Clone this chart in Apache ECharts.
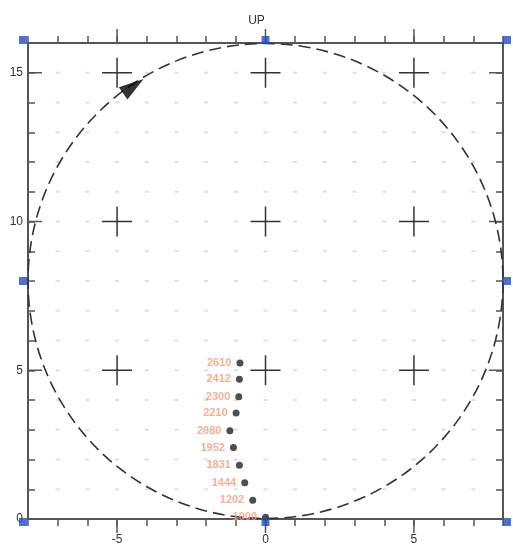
<!DOCTYPE html>
<html><head><meta charset="utf-8">
<script src="https://cdn.jsdelivr.net/npm/echarts@6/dist/echarts.min.js"></script>
<style>html,body{margin:0;padding:0;background:#fff}#c{width:513px;height:550px}</style>
</head><body><div id="c"></div>
<script>
// axis ranges and tick labels
const xMin = -8, xMax = 8, yMin = 0, yMax = 16;
const majorX = [-5, 0, 5];
const majorY = [5, 10, 15];
// background grid dots (integer positions)
const gridX = [-7,-6,-5,-4,-3,-2,-1,0,1,2,3,4,5,6,7];
const gridY = [1,2,3,4,5,6,7,8,9,10,11,12,13,14,15];
// circle: center x, center y, radius
const circle = [[0, 8, 8]];
// direction arrow on circle
const arrowPt = [[-4.45, 14.55]];
// anchor squares
const anchorPts = [[-8,0],[0,0],[8,0],[-8,8],[8,8],[-8,16],[0,16],[8,16]];
// trajectory points
const trackX = [-0.86, -0.88, -0.90, -0.99, -1.20, -1.08, -0.88, -0.70, -0.43, 0.0];
const trackY = [5.24, 4.70, 4.11, 3.56, 2.97, 2.40, 1.81, 1.22, 0.63, 0.06];
const trackLabels = ['2610','2412','2300','2210','2080','1952','1831','1444','1202','1000'];

const chart = echarts.init(document.getElementById('c'));
const axisColor = '#555';
const dots = [];
gridX.forEach(x => gridY.forEach(y => dots.push([x, y])));
const plus = [];
majorX.forEach(x => majorY.forEach(y => plus.push([x, y])));

function xAxisCfg(pos, showLabel) {
  return {
    type: 'value', position: pos, min: xMin, max: xMax, interval: 1,
    axisLine: { show: true, onZero: false, lineStyle: { color: axisColor, width: 2 } },
    axisTick: { show: true, inside: false, length: 7, lineStyle: { color: axisColor, width: 1.5 } },
    splitLine: { show: false },
    axisLabel: { show: showLabel, margin: 15, color: '#333', fontSize: 12, fontFamily: 'Liberation Sans, Arial',
      formatter: v => (v % 5 === 0 && v > xMin && v < xMax) ? String(v) : '' }
  };
}
function yAxisCfg(pos, showLabel) {
  return {
    type: 'value', position: pos, min: yMin, max: yMax, interval: 1,
    axisLine: { show: true, onZero: false, lineStyle: { color: axisColor, width: 2 } },
    axisTick: { show: true, inside: true, length: 7, lineStyle: { color: axisColor, width: 1.5 } },
    splitLine: { show: false },
    axisLabel: { show: showLabel, margin: 5, color: '#333', fontSize: 12, fontFamily: 'Liberation Sans, Arial',
      formatter: v => (v % 5 === 0 && v < yMax) ? String(v) : '' }
  };
}

chart.setOption({
  animation: false,
  backgroundColor: '#fff',
  title: { text: 'UP', left: 'center', top: 10, textStyle: { fontSize: 12, fontWeight: 'normal', color: '#333', fontFamily: 'Liberation Sans, Arial' } },
  grid: { left: 28, right: 10, top: 43, bottom: 31 },
  xAxis: [xAxisCfg('bottom', true), xAxisCfg('top', false)],
  yAxis: [yAxisCfg('left', true), yAxisCfg('right', false)],
  series: [
    { type: 'scatter', data: dots, symbol: 'rect', symbolSize: [4, 2], silent: true,
      itemStyle: { color: '#cdd9e5' }, z: 1 },
    { type: 'custom', data: plus, silent: true, z: 2,
      renderItem: (params, api) => {
        const p = api.coord([api.value(0), api.value(1)]);
        const h = 15;
        const st = { stroke: '#333', lineWidth: 1.5 };
        return { type: 'group', children: [
          { type: 'line', shape: { x1: p[0]-h, y1: p[1], x2: p[0]+h, y2: p[1] }, style: st },
          { type: 'line', shape: { x1: p[0], y1: p[1]-h, x2: p[0], y2: p[1]+h }, style: st }
        ]};
      } },
    { type: 'custom', data: majorX.map(v => [v, 0]), silent: true, clip: false, z: 3,
      renderItem: (params, api) => {
        const v = api.value(0);
        const b = api.coord([v, yMin]), t = api.coord([v, yMax]);
        const st = { stroke: axisColor, lineWidth: 1.5 };
        return { type: 'group', children: [
          { type: 'line', shape: { x1: b[0], y1: b[1], x2: b[0], y2: b[1]+14 }, style: st },
          { type: 'line', shape: { x1: t[0], y1: t[1], x2: t[0], y2: t[1]-14 }, style: st }
        ]};
      } },
    { type: 'custom', data: majorY.map(v => [0, v]), silent: true, clip: false, z: 3,
      renderItem: (params, api) => {
        const v = api.value(1);
        const l = api.coord([xMin, v]), r = api.coord([xMax, v]);
        const st = { stroke: axisColor, lineWidth: 1.5 };
        return { type: 'group', children: [
          { type: 'line', shape: { x1: l[0], y1: l[1], x2: l[0]+14, y2: l[1] }, style: st },
          { type: 'line', shape: { x1: r[0], y1: r[1], x2: r[0]-14, y2: r[1] }, style: st }
        ]};
      } },
    { type: 'custom', data: circle, silent: true, clip: false, z: 4,
      renderItem: (params, api) => {
        const c = api.coord([api.value(0), api.value(1)]);
        const r = api.size([api.value(2), 0])[0];
        return { type: 'circle', shape: { cx: c[0], cy: c[1], r: r },
          style: { fill: null, stroke: '#333', lineWidth: 1.6, lineDash: [12, 6] } };
      } },
    { type: 'scatter', data: arrowPt, symbol: 'triangle', symbolSize: [15, 25], symbolRotate: -55,
      itemStyle: { color: '#000' }, silent: true, z: 5 },
    { type: 'scatter', data: trackX.map((x, i) => [x, trackY[i], trackLabels[i]]),
      symbol: 'circle', symbolSize: 7, itemStyle: { color: '#222' }, z: 6, clip: false,
      label: { show: true, position: 'left', distance: 5, formatter: p => p.data[2],
        color: '#f39a78', fontSize: 11, fontWeight: 'bold', fontFamily: 'Liberation Sans, Arial' } },
    { type: 'scatter', clip: false, z: 7, symbol: 'rect', symbolSize: 8,
      data: anchorPts.map(p => ({ value: p,
        symbolOffset: [p[0] < 0 ? -5 : (p[0] > 0 ? 4 : 0), p[1] >= yMax ? -3 : (p[1] <= yMin ? 3 : 0)] })),
      itemStyle: { color: '#1f4fc4' } }
  ]
});
</script></body></html>
